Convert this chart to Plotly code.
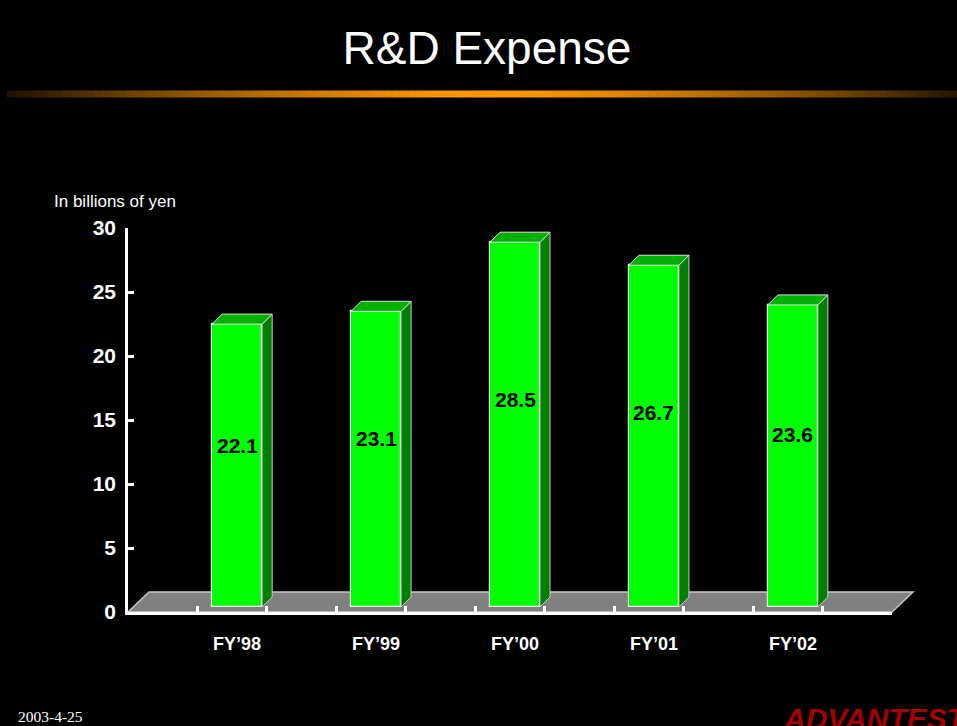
import plotly.graph_objects as go

# ---------------- data ----------------
categories = ["FY’98", "FY’99", "FY’00", "FY’01", "FY’02"]
values = [22.1, 23.1, 28.5, 26.7, 23.6]
y_ticks = [0, 5, 10, 15, 20, 25, 30]
title_text = "R&amp;D Expense"
unit_text = "In billions of yen"
date_text = "2003-4-25"
logo_text = "ADVANTEST"

# ---------------- geometry ----------------
W, H = 957, 726
L, R, T, B = 128, 65, 228, 114
pw, ph = W - L - R, H - T - B
XMAX, YMAX = 11, 30
ux, uy = XMAX / pw, YMAX / ph          # data units per pixel
centers = [1.5 + 2 * i for i in range(len(categories))]

FLOOR_DX, FLOOR_DY = 21, 20            # floor depth (px)
SHIFT_X, SHIFT_Y = 5, 5                # bar front plane shift (px)
DEP_X, DEP_Y = 10, 10                  # bar depth (px)
BAR_W = 50                             # bar width (px)

FONT = "Liberation Sans, Arial, sans-serif"


def paper_x(px):
    return (px - L) / pw


def paper_y(py):
    return (H - B - py) / ph


bx = [c + SHIFT_X * ux for c in centers]
base = SHIFT_Y * uy
half = BAR_W / 2 * ux
dx, dy = DEP_X * ux, DEP_Y * uy

side_x, side_y, top_x, top_y = [], [], [], []
for xc, v in zip(bx, values):
    x0, x1 = xc - half, xc + half
    yb, yt = base, base + v
    side_x += [x1, x1 + dx, x1 + dx, x1, x1, None]
    side_y += [yb, yb + dy, yt + dy, yt, yb, None]
    top_x += [x0, x1, x1 + dx, x0 + dx, x0, None]
    top_y += [yt, yt, yt + dy, yt + dy, yt, None]

fig = go.Figure()

fig.add_trace(go.Bar(
    x=bx, y=values, base=base, width=BAR_W * ux,
    marker=dict(color="#00FF00", line=dict(color="#F0F0F0", width=1.2)),
    hoverinfo="skip", showlegend=False))

fig.add_trace(go.Scatter(
    x=side_x, y=side_y, mode="lines", fill="toself", fillcolor="#008000",
    line=dict(color="#C8C8C8", width=1), hoverinfo="skip", showlegend=False))

fig.add_trace(go.Scatter(
    x=top_x, y=top_y, mode="lines", fill="toself", fillcolor="#00B000",
    line=dict(color="#E0E0E0", width=1), hoverinfo="skip", showlegend=False))

shapes = []
# floor
fx, fy = FLOOR_DX / pw, FLOOR_DY / ph
shapes.append(dict(
    type="path", xref="paper", yref="paper", layer="below",
    path=f"M 0,0 L 1,0 L {1 + fx},{fy} L {fx},{fy} Z",
    fillcolor="#808080", line=dict(color="#C8C8C8", width=1.5)))

# orange gradient rule under title
x_start, x_end, y_mid, thick = 7, 957, 94, 7
n = 120
peak = 488
for i in range(n):
    a = x_start + (x_end - x_start) * i / n
    b = x_start + (x_end - x_start) * (i + 1) / n + 0.6
    m = (a + b) / 2
    d = min(abs(m - peak) / 520, 1.0)
    k = max(0.08, 1 - d ** 1.5)
    col = f"rgb({int(255 * k)},{int(153 * k)},0)"
    shapes.append(dict(
        type="rect", xref="paper", yref="paper", layer="above",
        x0=paper_x(a), x1=paper_x(b),
        y0=paper_y(y_mid + thick / 2), y1=paper_y(y_mid - thick / 2),
        fillcolor=col, line=dict(width=0)))

annotations = []
# value labels
for xc, v in zip(bx, values):
    annotations.append(dict(
        x=xc, y=base + v * 0.57, xref="x", yref="y", text=f"<b>{v:.1f}</b>",
        xanchor="center", yanchor="middle",
        showarrow=False, font=dict(family=FONT, size=21, color="black")))
# category labels
for xc, c in zip(bx, categories):
    annotations.append(dict(
        x=xc, y=paper_y(644), xref="x", yref="paper", text=f"<b>{c}</b>",
        xanchor="center", yanchor="middle",
        showarrow=False, font=dict(family=FONT, size=18, color="white")))
# unit label
annotations.append(dict(
    x=paper_x(52), y=paper_y(201), xref="paper", yref="paper",
    xanchor="left", yanchor="middle", text=unit_text, showarrow=False,
    font=dict(family=FONT, size=17, color="white")))
# date
annotations.append(dict(
    x=paper_x(16), y=paper_y(716), xref="paper", yref="paper",
    xanchor="left", yanchor="middle", text=date_text, showarrow=False,
    font=dict(family="Liberation Serif, Times New Roman, serif", size=15.5,
              color="white")))
# logo
annotations.append(dict(
    x=paper_x(781), y=paper_y(700), xref="paper", yref="paper",
    xanchor="left", yanchor="top", text=f"<b><i>{logo_text}</i></b>",
    showarrow=False,
    font=dict(family=FONT, size=30, color="#A40000")))

fig.update_layout(
    width=W, height=H,
    margin=dict(l=L, r=R, t=T, b=B, pad=0),
    paper_bgcolor="black", plot_bgcolor="black",
    showlegend=False,
    title=dict(text=title_text, x=487 / W, y=1 - 48 / H,
               xref="container", yref="container",
               xanchor="center", yanchor="middle",
               font=dict(family=FONT, size=46, color="white")),
    shapes=shapes, annotations=annotations,
    bargap=0,
)

fig.update_xaxes(
    range=[0, XMAX], tickvals=list(range(1, XMAX)), showticklabels=False,
    ticks="inside", ticklen=6, tickwidth=2.5, tickcolor="white",
    showline=True, linecolor="white", linewidth=3,
    showgrid=False, zeroline=False, fixedrange=True)

fig.update_yaxes(
    range=[0, YMAX], tickvals=y_ticks, ticktext=[f"<b>{t}</b>" for t in y_ticks],
    ticks="inside", ticklen=6, tickwidth=2.5, tickcolor="white",
    showline=True, linecolor="white", linewidth=2.5,
    tickfont=dict(family=FONT, size=21, color="white"),
    ticklabelstandoff=5,
    showgrid=False, zeroline=False, fixedrange=True)

fig.write_html(
    "out.html",
    config={"displayModeBar": False},
    post_script="document.body.style.margin='0';document.body.style.background='black';",
)
